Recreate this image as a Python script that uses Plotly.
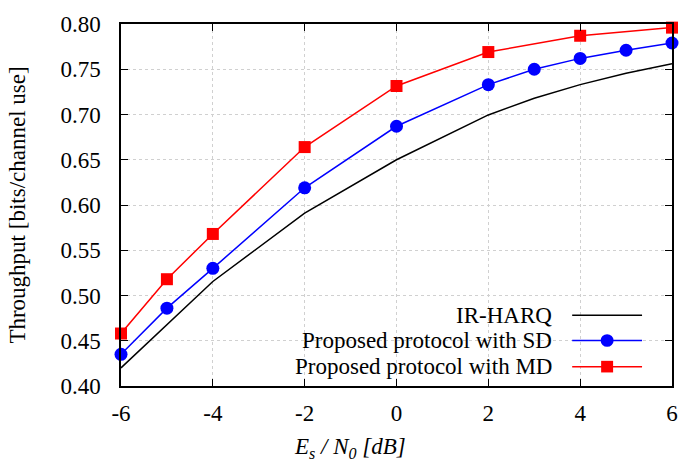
import plotly.graph_objects as go

x_ir = [-6, -5, -4, -2, 0, 2, 3, 4, 5, 6]
y_ir = [0.420, 0.468, 0.5155, 0.591, 0.650, 0.6995, 0.718, 0.733, 0.7455, 0.756]
x_sd = [-6, -5, -4, -2, 0, 2, 3, 4, 5, 6]
y_sd = [0.435, 0.486, 0.530, 0.619, 0.687, 0.733, 0.750, 0.762, 0.771, 0.779]
x_md = [-6, -5, -4, -2, 0, 2, 4, 6]
y_md = [0.458, 0.518, 0.568, 0.664, 0.7315, 0.769, 0.787, 0.796]

names = ["IR-HARQ", "Proposed protocol with SD", "Proposed protocol with MD"]
x_ticks = [-6, -4, -2, 0, 2, 4, 6]
y_ticks = [0.40, 0.45, 0.50, 0.55, 0.60, 0.65, 0.70, 0.75, 0.80]
x_title = "<i>E<sub>s</sub> / N<sub>0</sub> [dB]</i>"
y_title = "Throughput [bits/channel use]"

FONT = "Liberation Serif"
FS = 23

fig = go.Figure()
fig.add_trace(go.Scatter(x=x_ir, y=y_ir, mode="lines", line=dict(color="black", width=1.5),
                         name=names[0], showlegend=False))
fig.add_trace(go.Scatter(x=x_sd, y=y_sd, mode="lines+markers", line=dict(color="#0000ff", width=1.5),
                         marker=dict(symbol="circle", size=13, color="#0000ff"),
                         name=names[1], showlegend=False, cliponaxis=False))
fig.add_trace(go.Scatter(x=x_md, y=y_md, mode="lines+markers", line=dict(color="#ff0000", width=1.5),
                         marker=dict(symbol="square", size=12, color="#ff0000"),
                         name=names[2], showlegend=False, cliponaxis=False))

L, R, T, B = 121, 673, 12, 386
def px(xp):
    return (xp - L) / (R - L)
def py(yp):
    return (B - yp) / (B - T)

rows = [313, 339, 366]
colors = ["black", "#0000ff", "#ff0000"]
symbols = [None, "circle", "square"]
shapes = []
annotations = []
for i, (yy, c, s) in enumerate(zip(rows, colors, symbols)):
    annotations.append(dict(x=px(555), y=py(yy), xref="paper", yref="paper", text=names[i],
                            showarrow=False, xanchor="right", yanchor="middle",
                            font=dict(family=FONT, size=FS, color="black")))
    shapes.append(dict(type="line", xref="paper", yref="paper", x0=px(573), x1=px(643),
                       y0=py(yy), y1=py(yy), line=dict(color=c, width=1.5)))
    if s == "circle":
        shapes.append(dict(type="circle", xref="paper", yref="paper", x0=px(608 - 6.5), x1=px(608 + 6.5),
                           y0=py(yy + 6.5), y1=py(yy - 6.5), fillcolor=c, line=dict(width=0)))
    elif s == "square":
        shapes.append(dict(type="rect", xref="paper", yref="paper", x0=px(608 - 6), x1=px(608 + 6),
                           y0=py(yy + 6), y1=py(yy - 6), fillcolor=c, line=dict(width=0)))

# x-axis title (placed as in the reference, slightly left of centre)
annotations.append(dict(x=px(350), y=py(450), xref="paper", yref="paper", text=x_title,
                        showarrow=False, xanchor="center", yanchor="middle",
                        font=dict(family=FONT, size=FS, color="black")))

axis_common = dict(showline=True, linecolor="black", linewidth=1.5, mirror="allticks",
                   ticks="inside", ticklen=7, tickcolor="black", tickwidth=1,
                   showgrid=True, gridcolor="#d0d0d0", griddash="dot", gridwidth=1,
                   zeroline=False, tickfont=dict(family=FONT, size=FS, color="black"))

fig.update_layout(
    width=690, height=471,
    margin=dict(l=L, r=690 - R, t=T, b=471 - B),
    paper_bgcolor="white", plot_bgcolor="white",
    font=dict(family=FONT, size=FS, color="black"),
    shapes=shapes, annotations=annotations,
    xaxis=dict(range=[-6, 6], tickvals=x_ticks, ticktext=[str(v) for v in x_ticks],
               ticklabelstandoff=6, **axis_common),
    yaxis=dict(range=[0.40, 0.80], tickvals=y_ticks, ticktext=[f"{v:.2f}" for v in y_ticks],
               ticklabelstandoff=14,
               title=dict(text=y_title, standoff=28, font=dict(family=FONT, size=FS, color="black")),
               **axis_common),
)

fig.write_html("out.html")
